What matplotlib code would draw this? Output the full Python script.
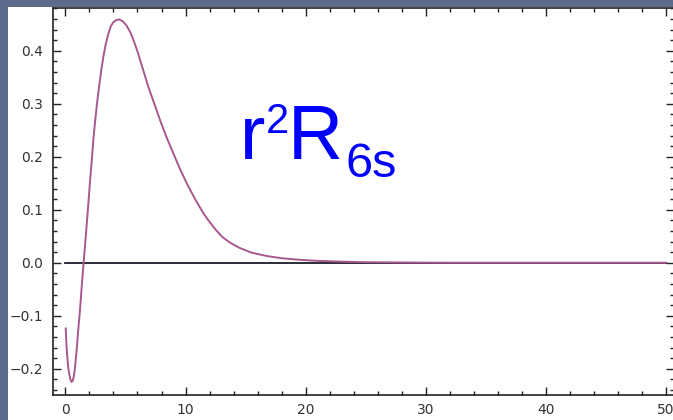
import matplotlib
matplotlib.use("Agg")
import matplotlib.pyplot as plt
from matplotlib.patches import Rectangle
from matplotlib.ticker import MultipleLocator

# data
r_vals = [0.02, 0.08, 0.15, 0.22, 0.30, 0.40, 0.50, 0.60, 0.70, 0.80, 0.93,
          1.05, 1.21, 1.37, 1.54, 1.72, 1.90, 2.05, 2.18, 2.32, 2.46, 2.64,
          2.82, 3.00, 3.15, 3.35, 3.57, 3.78, 3.99, 4.25, 4.49, 4.80, 5.10,
          5.40, 5.65, 5.95, 6.21, 6.55, 6.90, 7.40, 7.88, 8.40, 8.99, 9.50,
          10.1, 10.8, 11.5, 12.0, 12.6, 13.1, 13.7, 14.5, 15.5, 16.8, 18.0,
          19.5, 21.0, 23.0, 25.0, 28.0, 32.0, 40.0, 50.0]
y_vals = [-0.124, -0.155, -0.178, -0.196, -0.208, -0.219, -0.225, -0.223,
          -0.214, -0.196, -0.165, -0.130, -0.089, -0.040, 0.008, 0.058, 0.110,
          0.155, 0.190, 0.232, 0.265, 0.303, 0.336, 0.366, 0.388, 0.412, 0.432,
          0.446, 0.454, 0.458, 0.459, 0.455, 0.447, 0.435, 0.421, 0.402, 0.383,
          0.358, 0.332, 0.300, 0.269, 0.238, 0.206, 0.179, 0.150, 0.120, 0.093,
          0.077, 0.060, 0.048, 0.038, 0.028, 0.019, 0.0125, 0.0085, 0.0055,
          0.0035, 0.002, 0.001, 0.0004, 0.0, 0.0, 0.0]
x_major = [0, 10, 20, 30, 40, 50]
y_major = [-0.2, -0.1, 0.0, 0.1, 0.2, 0.3, 0.4]
label_parts = ["r", "2", "R", "6s"]

W, H = 673, 420
fig = plt.figure(figsize=(W / 100, H / 100), dpi=100)
fig.patch.set_facecolor("#5d6a8c")
fig.patches.append(Rectangle((8 / W, 0), 1, 1 - 7 / H, transform=fig.transFigure,
                             facecolor="white", edgecolor="none", zorder=-5))

ax = fig.add_axes([53 / W, 25 / H, (674 - 53) / W, (395 - 8) / H])
ax.set_zorder(1)
ax.set_facecolor("white")
ax.plot([0, 50], [0, 0], color="#1a1a2a", lw=1.3, zorder=2)
ax.plot(r_vals, y_vals, color="#a8588c", lw=1.4, zorder=3)

ax.set_xlim(-1.04, 50.7)
ax.set_ylim(-0.2496, 0.4806)
ax.set_xticks(x_major)
ax.set_yticks(y_major)
ax.set_yticklabels([f"{v:.1f}".replace("-", "\u2212") for v in y_major])
ax.xaxis.set_minor_locator(MultipleLocator(2))
ax.yaxis.set_minor_locator(MultipleLocator(0.02))
ax.tick_params(which="both", direction="in", top=True, right=True,
               width=1.0, color="#222222", labelsize=10, labelcolor="#333333")
ax.tick_params(which="major", length=6)
ax.tick_params(which="minor", length=3)
ax.tick_params(axis="y", which="major", pad=7)
ax.tick_params(axis="x", which="major", pad=6)
for s in ax.spines.values():
    s.set_linewidth(1.2)
    s.set_color("#222222")

def px(x, y):
    return x / W, 1 - y / H

fam = ["Liberation Sans", "DejaVu Sans"]
blue = "#0000ff"
fig.text(*px(240, 159), label_parts[0], fontsize=55, color=blue, family=fam,
         ha="left", va="baseline", zorder=5)
fig.text(*px(266, 133), label_parts[1], fontsize=30, color=blue, family=fam,
         ha="left", va="baseline", zorder=5)
fig.text(*px(288, 159), label_parts[2], fontsize=55, color=blue, family=fam,
         ha="left", va="baseline", zorder=5)
fig.text(*px(346, 177), label_parts[3], fontsize=35, color=blue, family=fam,
         ha="left", va="baseline", zorder=5)

fig.savefig("out.png", dpi=100, facecolor=fig.get_facecolor())
